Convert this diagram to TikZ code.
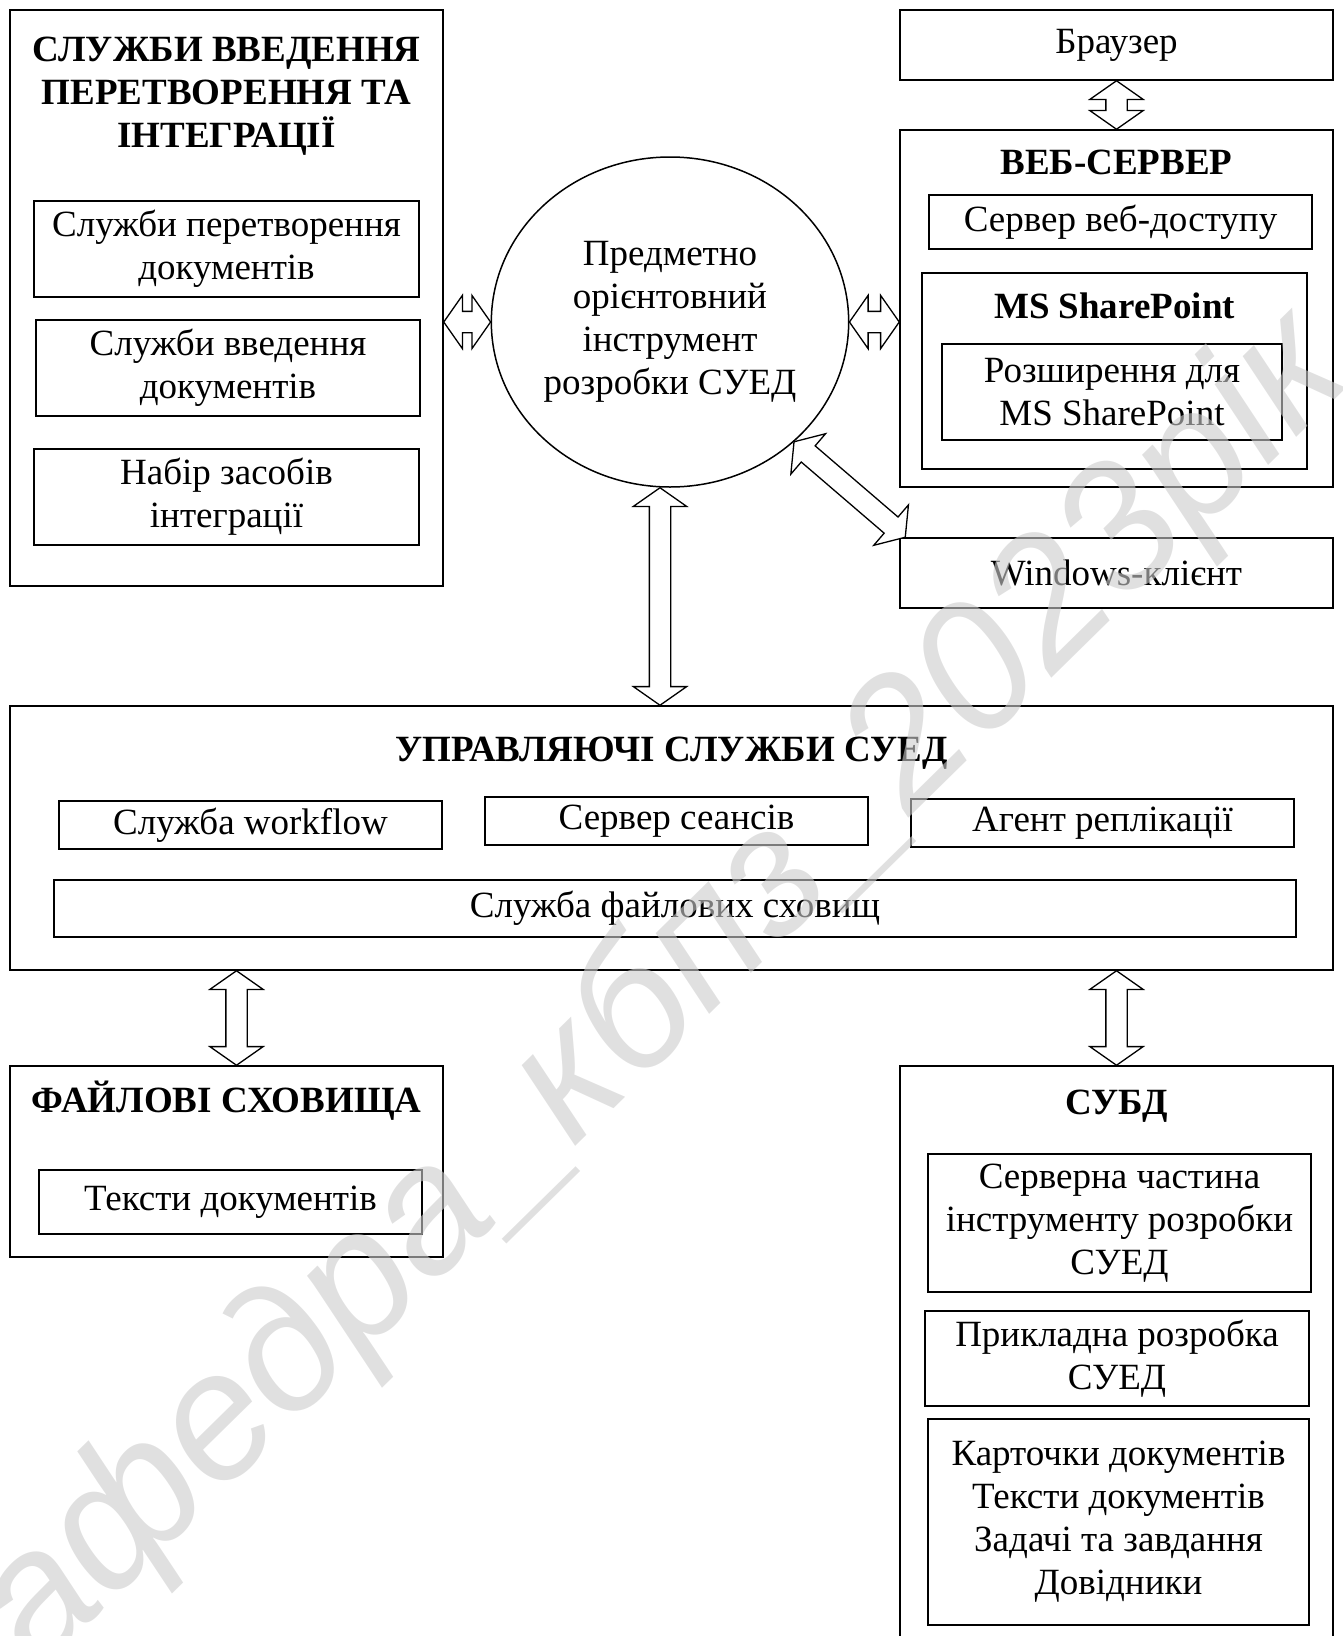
\documentclass[tikz,border=0pt]{standalone}
\usepackage{fontspec}
\setmainfont{Liberation Serif}
\newfontfamily\wmfont{Liberation Sans}
\usetikzlibrary{calc,shapes.geometric,shapes.arrows}

\newcommand{\diagfont}{\fontsize{37}{43}\selectfont}
% hollow two-headed arrow between two points
\newcommand{\biarrow}[2]{%
	\path let \p1=($(#2)-(#1)$), \n1={veclen(\x1,\y1)}, \n2={atan2(\y1,\x1)} in
		node[biarr, minimum height=\n1, rotate=\n2] at ($(#1)!0.5!(#2)$) {};}

\tikzset{
	box/.style={draw, line width=1.5pt, inner sep=0pt, align=center, font=\diagfont},
	head/.style={inner sep=0pt, align=center, font=\diagfont\bfseries},
	biarr/.style={shape=double arrow, draw, fill=white, line width=1.3pt,
		inner xsep=0pt, inner ysep=10pt, double arrow head extend=16pt,
		double arrow tip angle=110},
	wm/.style={inner sep=0pt, text=black!20, opacity=0.6, font=\wmfont\itshape\fontsize{180}{180}\selectfont}
}

\begin{document}
\begin{tikzpicture}[x=1pt, y=-1pt]
	\useasboundingbox (0,0) rectangle (1343,1636);

	% left block
	\node[box, minimum width=433pt, minimum height=576pt] (intg) at (226.5,298) {};
	\node[head] (intgtitle) at (226.5,96) {СЛУЖБИ ВВЕДЕННЯ\\ПЕРЕТВОРЕННЯ ТА\\ІНТЕГРАЦІЇ};
	\node[box, minimum width=385pt, minimum height=96pt] (conv) at (226.5,249) {Служби перетворення\\документів};
	\node[box, minimum width=384pt, minimum height=96pt] (inp) at (228,368) {Служби введення\\документів};
	\node[box, minimum width=385pt, minimum height=96pt] (kit) at (226.5,497) {Набір засобів\\інтеграції};

	% tool
	\node[draw, ellipse, line width=1.5pt, minimum width=356pt, minimum height=330pt,
		inner sep=0pt, align=center, font=\diagfont] (tool) at (670,322)
		{Предметно\\орієнтовний\\інструмент\\розробки СУЕД};

	% right block
	\node[box, minimum width=433pt, minimum height=70pt] (browser) at (1116.5,45) {Браузер};
	\node[box, minimum width=433pt, minimum height=357pt] (web) at (1116.5,308.5) {};
	\node[head] (webtitle) at (1116.5,162) {ВЕБ-СЕРВЕР};
	\node[box, minimum width=383pt, minimum height=54pt] (webacc) at (1120.5,222) {Сервер веб-доступу};
	\node[box, minimum width=385pt, minimum height=196pt] (sp) at (1114.5,371) {};
	\node[head] (sptitle) at (1114.5,306) {MS SharePoint};
	\node[box, minimum width=340pt, minimum height=96pt] (spext) at (1112,392) {Розширення для\\MS SharePoint};
	\node[box, minimum width=433pt, minimum height=70pt] (win) at (1116.5,573) {Windows-клієнт};

	% control services
	\node[box, minimum width=1323pt, minimum height=264pt] (ctrl) at (671.5,838) {};
	\node[head] (ctrltitle) at (671.5,753) {УПРАВЛЯЮЧІ СЛУЖБИ СУЕД};
	\node[box, minimum width=383pt, minimum height=48pt] (wf) at (250.5,825) {Служба workflow};
	\node[box, minimum width=383pt, minimum height=48pt] (sess) at (676.5,821) {Сервер сеансів};
	\node[box, minimum width=383pt, minimum height=48pt] (repl) at (1102.5,823) {Агент реплікації};
	\node[box, minimum width=1242pt, minimum height=57pt] (fstore) at (675,908.5) {Служба файлових сховищ};

	% storage
	\node[box, minimum width=433pt, minimum height=191pt] (files) at (226.5,1161.5) {};
	\node[head] (filestitle) at (226.5,1101) {ФАЙЛОВІ СХОВИЩА};
	\node[box, minimum width=383pt, minimum height=64pt] (ftext) at (230.5,1202) {Тексти документів};

	\node[box, minimum width=433pt, minimum height=594pt] (dbms) at (1116.5,1363) {};
	\node[head] (dbmstitle) at (1116.5,1106) {СУБД};
	\node[box, minimum width=383pt, minimum height=138pt] (srvpart) at (1119.5,1223) {Серверна частина\\інструменту розробки\\СУЕД};
	\node[box, minimum width=384pt, minimum height=95pt] (appdev) at (1117,1358.5) {Прикладна розробка\\СУЕД};
	\node[box, minimum width=381pt, minimum height=206pt] (data) at (1118.5,1522) {Карточки документів\\Тексти документів\\Задачі та завдання\\Довідники};

	% arrows
	\coordinate (a1) at (intg.east |- tool.west);
	\coordinate (a2) at (web.west |- tool.east);
	\coordinate (a3) at ([xshift=6pt]win.north west);
	\coordinate (a4) at ([xshift=-10pt]tool.south);
	\coordinate (a5) at (a4 |- ctrl.north);
	\coordinate (a6) at ([xshift=10pt]files.north);
	\coordinate (a7) at (a6 |- ctrl.south);
	\coordinate (a8) at (dbms.north |- ctrl.south);
	\biarrow{a1}{tool.west}
	\biarrow{tool.east}{a2}
	\biarrow{browser.south}{web.north}
	\biarrow{tool.-44}{a3}
	\biarrow{a4}{a5}
	\biarrow{a7}{a6}
	\biarrow{a8}{dbms.north}

	% watermark
	\node[wm, rotate=44.5] (wmark) at (626,1030) {Кафедра\_кбпз\_2023рік};
\end{tikzpicture}
\end{document}
